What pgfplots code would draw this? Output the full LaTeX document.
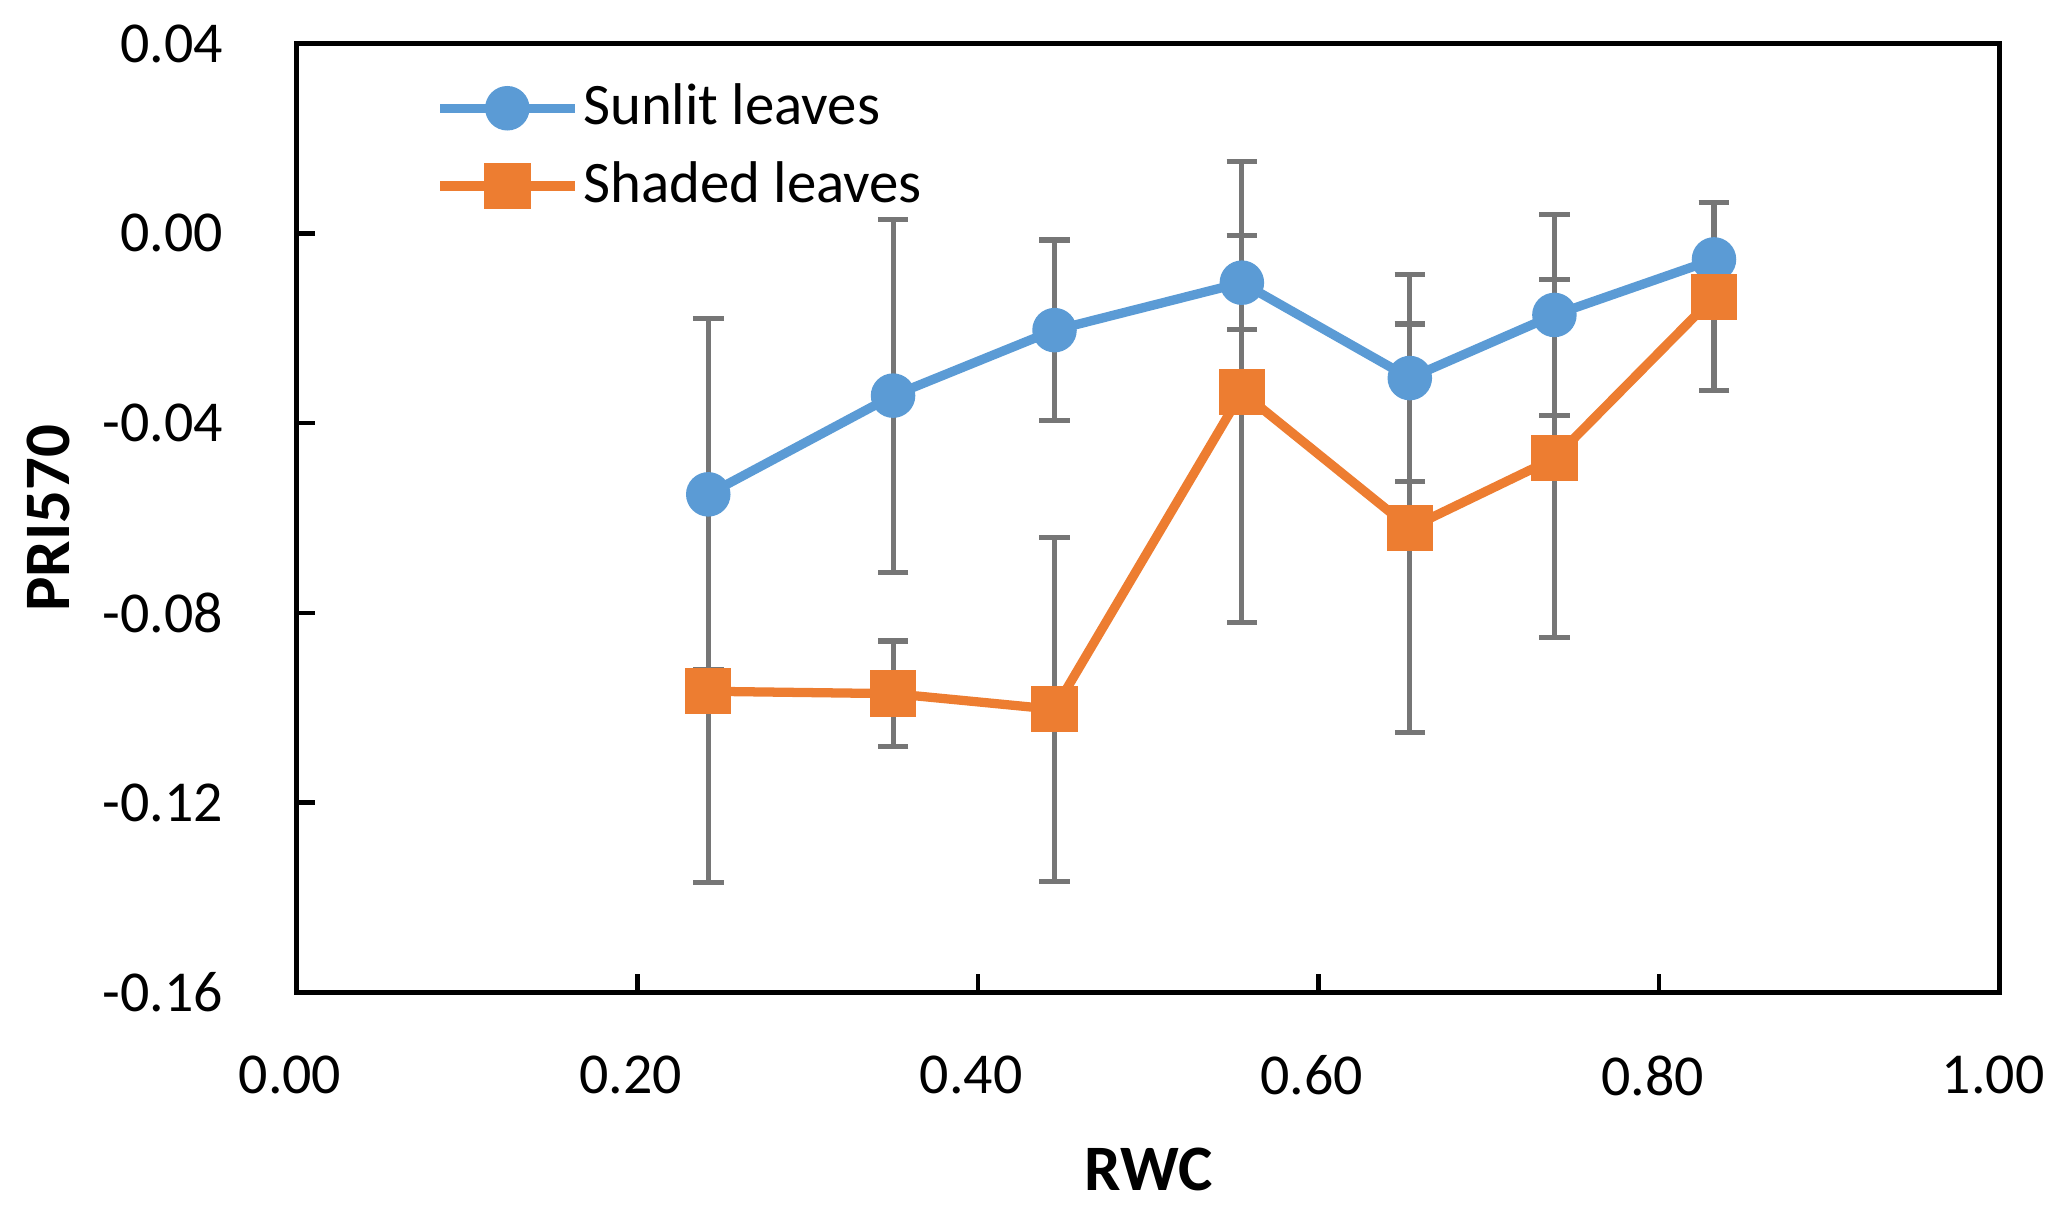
\documentclass[border=0pt]{standalone}
\usepackage{fontspec}
\setmainfont{Carlito}
\usepackage{pgfplots}
\usepackage{pgfplotstable}
\pgfplotsset{compat=1.18}
\definecolor{sunblue}{RGB}{91,155,213}
\definecolor{shadeorange}{RGB}{237,125,49}
\definecolor{errgray}{RGB}{118,118,118}

\pgfplotstableread{
x y e
0.2417 -0.0550 0.0370
0.3502 -0.0342 0.0372
0.4450 -0.0204 0.0190
0.5550 -0.0104 0.0099
0.6536 -0.0305 0.0218
0.7385 -0.0172 0.0212
0.8322 -0.0055 0.0120
}\sunlit

\pgfplotstableread{
x y e
0.2417 -0.0965 0.0402
0.3502 -0.0970 0.0111
0.4450 -0.1003 0.0363
0.5550 -0.0335 0.0486
0.6536 -0.0621 0.0430
0.7385 -0.0474 0.0377
0.8322 -0.0134 0.0198
}\shaded

\begin{document}
\begin{tikzpicture}
\begin{axis}[
  scale only axis,
  width=12.92cm, height=7.20cm,
  xmin=0, xmax=1, ymin=-0.16, ymax=0.04,
  xtick={0,0.2,0.4,0.6,0.8,1},
  ytick={-0.16,-0.12,-0.08,-0.04,0,0.04},
  xtick pos=left, ytick pos=left,
  tick align=inside,
  major tick length=0.14cm,
  tick style={black, line width=1pt},
  axis line style={black, line width=1pt},
  /pgf/number format/.cd, fixed, fixed zerofill, precision=2, assume math mode=true,
  /pgfplots/.cd,
  ticklabel style={font=\fontsize{12.5}{15}\selectfont},
  xticklabel style={inner sep=0pt, anchor=north, yshift=-0.47cm, xshift=-0.05cm},
  yticklabel style={inner sep=0pt, anchor=east, xshift=-0.55cm},
  xlabel={RWC},
  ylabel={PRI570},
  every axis x label/.style={at={(axis description cs:0.5,0)}, anchor=north, inner sep=0pt, yshift=-1.17cm, font=\bfseries\fontsize{14}{16}\selectfont},
  every axis y label/.style={at={(axis description cs:0,0.5)}, xshift=-2.05cm, rotate=90, anchor=north, inner sep=0pt, font=\bfseries\fontsize{14}{16}\selectfont},
  legend image code/.code={\draw[mark repeat=2, mark phase=2] plot coordinates {(0cm,0cm) (0.51cm,0cm) (1.02cm,0cm)};},
  legend style={at={(axis description cs:0.081,0.964)}, anchor=north west, draw=none, fill=none, inner sep=0pt, column sep=0.03cm, row sep=0.14cm, font=\fontsize{12.7}{15}\selectfont, nodes={inner sep=0pt, text height=0.35cm, text depth=0.1cm}},
  legend cell align=left,
]
% error bars first (under lines and markers)
\addplot[draw=none, mark=none, forget plot,
  error bars/.cd, y dir=both, y explicit, error mark=-,
  error bar style={draw=errgray, line width=1.1pt},
  error mark options={rotate=90, draw=errgray, line width=1.1pt, mark size=3.3pt}]
  table[x=x, y=y, y error=e] {\sunlit};
\addplot[draw=none, mark=none, forget plot,
  error bars/.cd, y dir=both, y explicit, error mark=-,
  error bar style={draw=errgray, line width=1.1pt},
  error mark options={rotate=90, draw=errgray, line width=1.1pt, mark size=3.3pt}]
  table[x=x, y=y, y error=e] {\shaded};

\addplot[sunblue, line width=2pt, mark=*, mark size=3.8pt, mark options={solid, draw=none, fill=sunblue}]
  table[x=x, y=y] {\sunlit};
\addlegendentry{Sunlit leaves}
\addplot[shadeorange, line width=2pt, mark=square*, mark size=4pt, mark options={solid, draw=none, fill=shadeorange}]
  table[x=x, y=y] {\shaded};
\addlegendentry{Shaded leaves}

\coordinate (bl) at (rel axis cs:0,0);
\coordinate (tr) at (rel axis cs:1,1);
\end{axis}
\path (bl) ++(-2.25cm,-1.68cm);
\path (tr) ++(0.51cm,0.33cm);
\end{tikzpicture}
\end{document}
